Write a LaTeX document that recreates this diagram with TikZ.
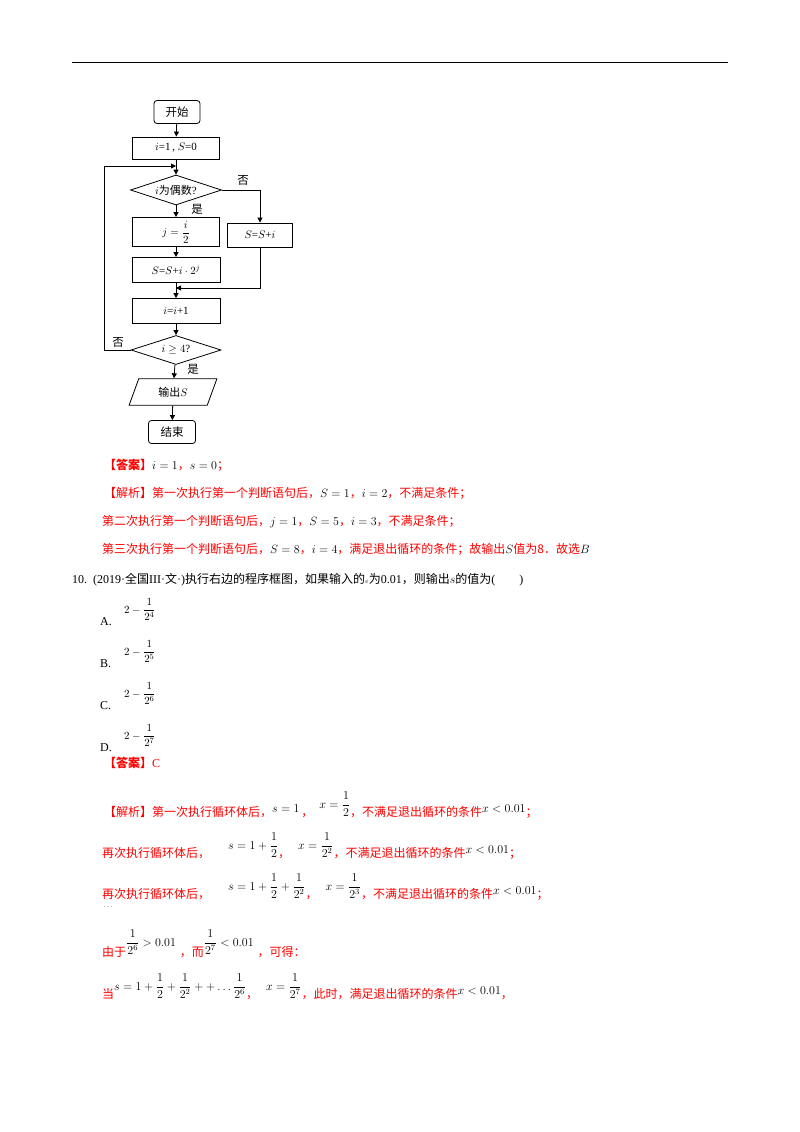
\documentclass[tikz,border=0pt]{standalone}
\usepackage{fontspec}
\usepackage{amsmath,amssymb}
\setmainfont{Liberation Serif}
\newfontfamily\cjk{Noto Sans CJK SC}
\usetikzlibrary{shapes.geometric,arrows.meta}
\definecolor{rd}{RGB}{255,0,0}
\newcommand{\bm}[1]{\textcolor{black}{#1}}
\newcommand{\up}[2]{\raisebox{#1}{\textcolor{black}{#2}}}
\begin{document}
\begin{tikzpicture}[x=1pt,y=-1pt,
  box/.style={draw,thick,minimum height=23pt,inner sep=1pt,font=\fontsize{11}{13}\selectfont},
  term/.style={box,rounded corners=3pt},
  dia/.style={draw,thick,diamond,aspect=3.1,inner sep=0.5pt,font=\fontsize{11}{13}\selectfont},
  arr/.style={thick,-{Triangle[length=5pt,width=5pt]}},
  lbl/.style={font=\cjk\fontsize{11.5}{13}\selectfont},
  txt/.style={anchor=base west,inner sep=0,font=\cjk\fontsize{12}{14}\selectfont},
  red/.style={txt,text=rd}]
\useasboundingbox (0,0) rectangle (800,1132);
\fill[white] (0,0) rectangle (800,1132);
\draw (72,62) -- (728,62);
% flowchart
\node[term,minimum width=46pt,font=\cjk\fontsize{11.5}{13}\selectfont] (start) at (177,112) {开始};
\node[box,minimum width=87pt,minimum height=22pt] (init) at (176,148) {$i$=1\,, $S$=0};
\coordinate (top) at (176,166);
\node[dia,minimum width=91pt,minimum height=30pt] (d1) at (176,190) {$i${\cjk 为偶数}?};
\node[box,minimum width=87pt,minimum height=29pt] (j) at (176,232) {$j=\dfrac{i}{2}$};
\node[box,minimum width=65pt,minimum height=24pt] (ssi) at (260,235) {$S$=$S$+$i$};
\node[box,minimum width=88pt,minimum height=25pt] (s2) at (176,270) {$S$=$S$+$i\cdot 2^{j}$};
\coordinate (mg) at (176,288);
\node[box,minimum width=88pt,minimum height=25pt] (inc) at (176,311) {$i$=$i$+1};
\node[dia,minimum width=90pt,minimum height=29pt] (d2) at (176,350) {$i\geq 4$?};
\node[draw,thick,trapezium,trapezium left angle=70,trapezium right angle=110,minimum width=88pt,minimum height=26pt,inner sep=1pt,font=\fontsize{11}{13}\selectfont] (out) at (173,392) {{\cjk 输出}$S$};
\node[term,minimum width=47pt,font=\cjk\fontsize{11.5}{13}\selectfont] (end) at (172,432) {结束};
\draw[arr] (start) -- (init);
\draw[arr] (init) -- (d1);
\draw[arr] (d1) -- (j);
\draw[arr] (d1.east) -| (ssi.north);
\draw[arr] (j) -- (s2);
\draw[arr] (s2) -- (inc);
\draw[thick] (ssi.south) |- (mg);
\draw[arr] (mg) ++(84,0) -- (mg);
\draw[arr] (inc) -- (d2);
\draw[arr] (d2.west) -- (104,350) -- (104,166) -- (top);
\draw[arr] (d2) -- (out);
\draw[arr] (out) -- (end);
\node[lbl] (n1) at (243,180) {否};
\node[lbl] (y1) at (197,209) {是};
\node[lbl] (n2) at (118,342) {否};
\node[lbl] (y2) at (193,369) {是};
% answer text
\node[red] (a1) at (104,469) {\textbf{【答案】}\bm{$i=1$}，\bm{$s=0$}；};
\node[red] (a2) at (104,497) {【解析】第一次执行第一个判断语句后，\bm{$S=1$}，\bm{$i=2$}，不满足条件；};
\node[red] (a3) at (102,525) {第二次执行第一个判断语句后，\bm{$j=1$}，\bm{$S=5$}，\bm{$i=3$}，不满足条件；};
\node[red] (a4) at (102,553) {第三次执行第一个判断语句后，\bm{$S=8$}，\bm{$i=4$}，满足退出循环的条件；故输出\bm{$S$}值为8．故选\bm{$B$}};
\node[txt] (q) at (72,583) {{\rmfamily 10.\ \ (2019·}全国{\rmfamily III·}文{\rmfamily ·)}执行右边的程序框图，如果输入的{\rmfamily\scriptsize$\varepsilon$}为{\rmfamily 0.01}，则输出{\rmfamily $s$}的值为{\rmfamily(\qquad)}};
\foreach \l/\e/\y in {A/4/625,B/5/667,C/6/709,D/7/751}{
  \node[txt,font=\rmfamily\fontsize{12}{14}\selectfont] (o\l) at (100,\y) {\l.};
  \node[txt,font=\rmfamily\fontsize{11}{14}\selectfont] (f\l) at (124,\y-12) {$2-\dfrac{1}{2^{\e}}$};
}
\node[red] (a5) at (104,767) {\textbf{【答案】}{\rmfamily C}};
\node[red] (b1) at (104,816) {【解析】第一次执行循环体后，\up{4pt}{$s=1$}\,，\hspace{6pt}\up{8pt}{$x=\dfrac12$}，不满足退出循环的条件\up{4pt}{$x<0.01$}；};
\node[red] (b2) at (102,857) {再次执行循环体后，\hspace{18pt}\up{8pt}{$s=1+\dfrac12$}，\hspace{8pt}\up{8pt}{$x=\dfrac1{2^2}$}，不满足退出循环的条件\up{4pt}{$x<0.01$}；};
\node[red] (b3) at (102,898) {再次执行循环体后，\hspace{18pt}\up{8pt}{$s=1+\dfrac12+\dfrac1{2^2}$}，\hspace{8pt}\up{8pt}{$x=\dfrac1{2^3}$}，不满足退出循环的条件\up{4pt}{$x<0.01$}；};
\node[txt] (dots) at (103,908) {\scriptsize$\cdots$};
\node[red] (c1) at (102,956) {由于\up{10pt}{$\dfrac1{2^6}>0.01$}\hspace{4pt}，而\up{10pt}{$\dfrac1{2^7}<0.01$}\hspace{4pt}，可得：};
\node[red] (d1t) at (102,998) {当\up{8pt}{$s=1+\dfrac12+\dfrac1{2^2}++\dots\dfrac1{2^6}$}，\hspace{8pt}\up{8pt}{$x=\dfrac1{2^7}$}，此时，满足退出循环的条件\up{4pt}{$x<0.01$}，};
\end{tikzpicture}
\end{document}
